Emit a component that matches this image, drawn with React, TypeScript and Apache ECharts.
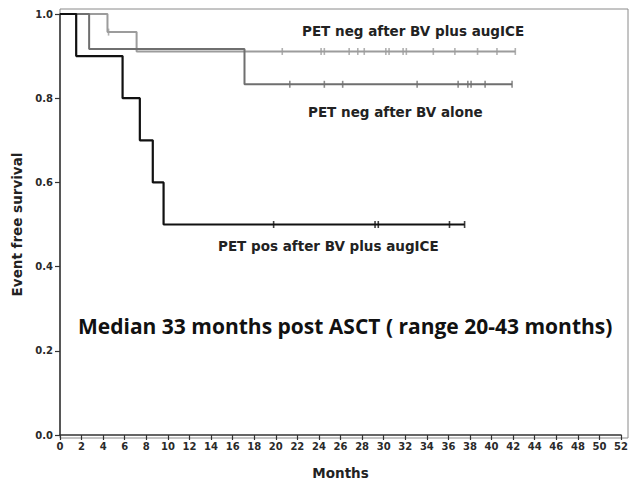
import React, { useEffect, useRef } from "react";
import * as echarts from "echarts";

// Kaplan-Meier step points (months, survival)
const negAugMonths = [0, 4.4, 7.1, 42.2];
const negAugSurv = [1, 0.957, 0.911, 0.911];
const negAugCensorMonths = [4.5, 20.6, 24.2, 24.5, 26.8, 27.6, 28.2, 30.2, 30.5, 31.8, 32.1, 34.6, 36.6, 38.7, 40.5, 42.2];
const negAugCensorSurv = [0.957, 0.911, 0.911, 0.911, 0.911, 0.911, 0.911, 0.911, 0.911, 0.911, 0.911, 0.911, 0.911, 0.911, 0.911, 0.911];

const negBvMonths = [0, 2.7, 17.1, 41.9];
const negBvSurv = [1, 0.917, 0.833, 0.833];
const negBvCensorMonths = [21.3, 24.5, 26.2, 33.1, 36.9, 37.8, 38.1, 39.4, 41.9];

const posAugMonths = [0, 1.5, 5.8, 7.4, 8.6, 9.6, 37.5];
const posAugSurv = [1, 0.9, 0.8, 0.7, 0.6, 0.5, 0.5];
const posAugCensorMonths = [19.8, 29.2, 29.5, 36.1, 37.5];

const seriesNames = ["PET neg after BV plus augICE", "PET neg after BV alone", "PET pos after BV plus augICE"];
const noteText = "Median 33 months post ASCT ( range 20-43 months)";

const zip = (xs: number[], ys: number[]) => xs.map((x, i) => [x, ys[i]]);
const lastOf = (ys: number[]) => ys[ys.length - 1];

export default function App() {
  const ref = useRef<HTMLDivElement>(null);
  useEffect(() => {
    if (!ref.current) return;
    const chart = echarts.init(ref.current, null, { renderer: "svg" });
    const tickFont = { fontFamily: "DejaVu Sans", fontWeight: "bold" as const, fontSize: 10, color: "#2a2a2a" };
    const labelStyle = { fontFamily: "DejaVu Sans", fontWeight: "bold" as const, fontSize: 13.5, fill: "#222" };
    const lightC = "#9c9c9c";
    const darkC = "#6f6f6f";
    const blackC = "#111111";
    const censor = (name: string, data: number[][], color: string) => ({
      name: name + " censored",
      type: "scatter",
      symbol: "rect",
      symbolSize: [1.6, 7],
      itemStyle: { color },
      data,
      z: 4,
    });
    chart.setOption({
      animation: false,
      backgroundColor: "#ffffff",
      grid: { left: 60, top: 14, right: 7.5, bottom: 47 },
      xAxis: {
        type: "value",
        min: 0,
        max: 52,
        interval: 2,
        name: "Months",
        nameLocation: "middle",
        nameGap: 31,
        nameTextStyle: { fontFamily: "DejaVu Sans", fontWeight: "bold", fontSize: 13.5, color: "#222" },
        axisLine: { show: true, lineStyle: { color: "#333", width: 1.5 } },
        axisTick: { show: true, length: 5, lineStyle: { color: "#333", width: 1.2 } },
        axisLabel: { ...tickFont, margin: 6 },
        splitLine: { show: false },
      },
      yAxis: {
        type: "value",
        min: 0,
        max: 1,
        interval: 0.2,
        name: "Event free survival",
        nameLocation: "middle",
        nameGap: 36,
        nameTextStyle: { fontFamily: "DejaVu Sans", fontWeight: "bold", fontSize: 13.5, color: "#222" },
        axisLine: { show: true, lineStyle: { color: "#333", width: 1.5 } },
        axisTick: { show: true, length: 5, lineStyle: { color: "#333", width: 1.2 } },
        axisLabel: { ...tickFont, margin: 7, formatter: (v: number) => v.toFixed(1) },
        splitLine: { show: false },
      },
      graphic: [
        {
          type: "rect",
          shape: { x: 60, y: 9, width: 568, height: 429 },
          style: { fill: "none", stroke: "#8a8a8a", lineWidth: 1 },
          z: -1,
          silent: true,
        },
        { type: "text", left: 302, top: 24, style: { ...labelStyle, text: seriesNames[0] } },
        { type: "text", left: 308, top: 105, style: { ...labelStyle, text: seriesNames[1] } },
        { type: "text", left: 218, top: 239, style: { ...labelStyle, text: seriesNames[2] } },
        {
          type: "text",
          left: 78,
          top: 315,
          style: { text: noteText, fontFamily: "Open Sans", fontWeight: "bold", fontSize: 21, fill: "#111" },
        },
      ],
      series: [
        {
          name: seriesNames[0],
          type: "line",
          step: "end",
          showSymbol: false,
          lineStyle: { color: lightC, width: 2 },
          data: zip(negAugMonths, negAugSurv),
          z: 2,
        },
        {
          name: seriesNames[1],
          type: "line",
          step: "end",
          showSymbol: false,
          lineStyle: { color: darkC, width: 2 },
          data: zip(negBvMonths, negBvSurv),
          z: 3,
        },
        {
          name: seriesNames[2],
          type: "line",
          step: "end",
          showSymbol: false,
          lineStyle: { color: blackC, width: 2.2 },
          data: zip(posAugMonths, posAugSurv),
          z: 5,
        },
        censor(seriesNames[0], zip(negAugCensorMonths, negAugCensorSurv), lightC),
        censor(seriesNames[1], negBvCensorMonths.map((m) => [m, lastOf(negBvSurv)]), darkC),
        censor(seriesNames[2], posAugCensorMonths.map((m) => [m, lastOf(posAugSurv)]), blackC),
      ],
    });
    return () => chart.dispose();
  }, []);
  return (
    <div
      ref={ref}
      style={{ position: "fixed", left: 0, top: 0, width: 631, height: 485, background: "#fff" }}
    />
  );
}
